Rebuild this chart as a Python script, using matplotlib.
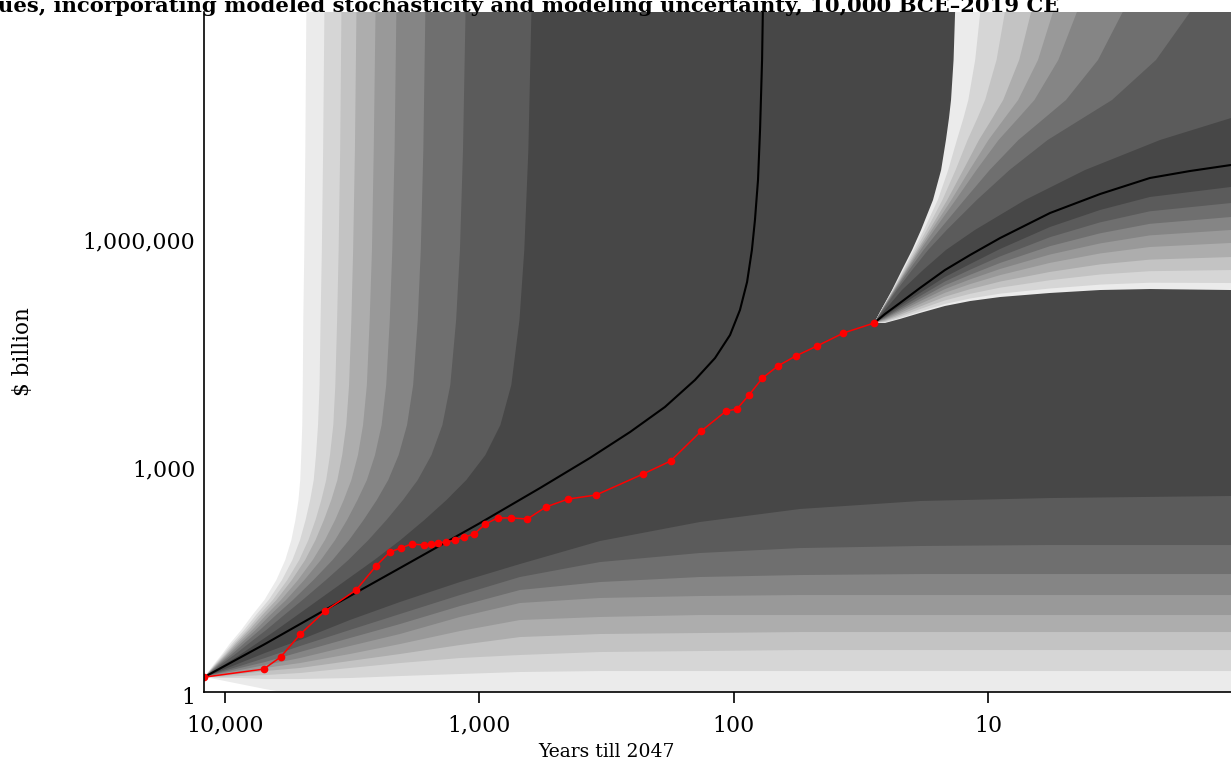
import numpy as np
import matplotlib.pyplot as plt
from matplotlib.ticker import NullLocator, FixedLocator, FixedFormatter
from matplotlib.transforms import ScaledTranslation

plt.rcParams['font.family'] = ['DejaVu Serif']

# historical gross world product: calendar year, $ billion
years = [-10000, -5000, -4000, -3000, -2000, -1000, -500, -200, 14, 200, 400, 500,
         600, 700, 800, 900, 1000, 1100, 1200, 1300, 1400, 1500, 1600, 1700,
         1820, 1870, 1913, 1940, 1950, 1960, 1970, 1980, 1990, 2000, 2010, 2019]
gwp = [1.57, 2.00, 2.88, 5.79, 11.6, 22.0, 45.5, 69.5, 78.5, 88.5, 85.9, 88.5,
       91.4, 94.2, 100, 109, 120, 162, 195, 195, 189, 272, 346, 391,
       738, 1094, 2716, 4977, 5290, 8090, 13500, 19450, 26350, 35650, 52850, 71600]

# fan from 10,000 BCE, in log10 years till 2047 and log10 $ billion, outer band first
left_up_logv = [0.197, 0.355, 0.486, 0.644, 0.815, 1.013, 1.210, 1.473, 1.736, 1.999,
                2.263, 2.526, 2.789, 3.118, 3.513, 4.039, 4.894, 5.815, 7.131, 8.947]
left_up_logt = [
    [4.081, 4.046, 4.014, 3.979, 3.936, 3.892, 3.845, 3.798, 3.763, 3.739, 3.723, 3.711, 3.704, 3.700, 3.696, 3.694, 3.692, 3.688, 3.684, 3.680],
    [4.081, 4.042, 4.009, 3.970, 3.925, 3.878, 3.828, 3.776, 3.735, 3.705, 3.683, 3.665, 3.651, 3.642, 3.634, 3.628, 3.624, 3.619, 3.614, 3.609],
    [4.081, 4.039, 4.003, 3.962, 3.914, 3.865, 3.812, 3.755, 3.708, 3.672, 3.644, 3.621, 3.602, 3.587, 3.574, 3.566, 3.559, 3.553, 3.547, 3.542],
    [4.081, 4.037, 3.998, 3.955, 3.905, 3.853, 3.798, 3.737, 3.685, 3.644, 3.611, 3.582, 3.558, 3.539, 3.523, 3.512, 3.503, 3.496, 3.489, 3.483],
    [4.081, 4.033, 3.993, 3.946, 3.893, 3.838, 3.780, 3.713, 3.655, 3.607, 3.567, 3.533, 3.503, 3.477, 3.457, 3.442, 3.431, 3.422, 3.415, 3.408],
    [4.081, 4.030, 3.986, 3.936, 3.880, 3.822, 3.760, 3.688, 3.623, 3.567, 3.520, 3.479, 3.442, 3.410, 3.384, 3.366, 3.352, 3.342, 3.333, 3.326],
    [4.081, 4.025, 3.977, 3.923, 3.863, 3.799, 3.733, 3.652, 3.577, 3.512, 3.455, 3.403, 3.358, 3.317, 3.284, 3.260, 3.242, 3.230, 3.220, 3.212],
    [4.081, 4.018, 3.964, 3.904, 3.838, 3.767, 3.695, 3.603, 3.515, 3.436, 3.365, 3.300, 3.242, 3.188, 3.145, 3.114, 3.091, 3.076, 3.064, 3.054],
    [4.081, 4.006, 3.943, 3.873, 3.798, 3.715, 3.633, 3.523, 3.413, 3.310, 3.216, 3.129, 3.051, 2.976, 2.917, 2.874, 2.842, 2.823, 2.807, 2.795],
]
left_lo_logt = [4.081, 4.020, 3.941, 3.843, 3.705, 3.509, 3.312, 3.076, 2.840,
                2.525, 2.132, 1.739, 1.267, 0.756, 0.044]
left_lo_logv = [
    [0.197, 0.158, 0.105, 0.039, -0.040, -0.119, -0.171, -0.211, -0.237, -0.250, -0.263, -0.263, -0.263, -0.263, -0.263],
    [0.197, 0.184, 0.184, 0.171, 0.171, 0.184, 0.210, 0.237, 0.263, 0.276, 0.276, 0.276, 0.276, 0.276, 0.276],
    [0.197, 0.197, 0.210, 0.223, 0.250, 0.316, 0.381, 0.447, 0.487, 0.526, 0.539, 0.552, 0.552, 0.552, 0.552],
    [0.197, 0.210, 0.237, 0.276, 0.316, 0.408, 0.500, 0.618, 0.723, 0.763, 0.776, 0.789, 0.789, 0.789, 0.789],
    [0.197, 0.223, 0.263, 0.316, 0.381, 0.500, 0.631, 0.802, 0.947, 0.987, 1.013, 1.013, 1.013, 1.013, 1.013],
    [0.197, 0.237, 0.289, 0.355, 0.447, 0.605, 0.763, 0.987, 1.171, 1.237, 1.263, 1.276, 1.276, 1.276, 1.276],
    [0.197, 0.250, 0.316, 0.394, 0.526, 0.710, 0.894, 1.131, 1.342, 1.447, 1.513, 1.539, 1.552, 1.552, 1.552],
    [0.197, 0.263, 0.342, 0.447, 0.605, 0.816, 1.026, 1.276, 1.513, 1.710, 1.829, 1.894, 1.921, 1.934, 1.934],
    [0.197, 0.276, 0.381, 0.513, 0.684, 0.947, 1.184, 1.447, 1.684, 1.987, 2.237, 2.408, 2.513, 2.552, 2.579],
]
left_med_logt = [4.081, 3.843, 3.607, 3.312, 2.997, 2.761, 2.565, 2.407, 2.270, 2.152,
                 2.073, 2.014, 1.975, 1.947, 1.928, 1.916, 1.904, 1.896, 1.888, 1.885]
left_med_logv = [0.197, 0.631, 1.079, 1.631, 2.223, 2.684, 3.079, 3.421, 3.750, 4.105,
                 4.394, 4.697, 5.026, 5.394, 5.816, 6.210, 6.737, 7.394, 8.316, 8.947]

# fan from 2019
right_up_logv = [4.855, 5.026, 5.289, 5.552, 5.816, 6.079, 6.473, 6.868, 7.263,
                 7.552, 7.789, 8.316, 8.947]
right_up_logt = [
    [1.447, 1.420, 1.377, 1.338, 1.298, 1.263, 1.216, 1.184, 1.165, 1.153, 1.145, 1.135, 1.129],
    [1.447, 1.420, 1.375, 1.333, 1.292, 1.252, 1.197, 1.156, 1.122, 1.096, 1.077, 1.050, 1.030],
    [1.447, 1.419, 1.373, 1.330, 1.285, 1.241, 1.179, 1.127, 1.080, 1.041, 1.011, 0.966, 0.933],
    [1.447, 1.418, 1.371, 1.325, 1.278, 1.230, 1.160, 1.097, 1.035, 0.982, 0.940, 0.877, 0.830],
    [1.447, 1.417, 1.369, 1.321, 1.272, 1.221, 1.144, 1.072, 0.998, 0.934, 0.881, 0.803, 0.744],
    [1.447, 1.416, 1.367, 1.317, 1.265, 1.211, 1.127, 1.045, 0.958, 0.880, 0.817, 0.723, 0.650],
    [1.447, 1.415, 1.364, 1.310, 1.253, 1.191, 1.093, 0.993, 0.880, 0.777, 0.693, 0.567, 0.470],
    [1.447, 1.413, 1.358, 1.298, 1.235, 1.162, 1.044, 0.915, 0.765, 0.626, 0.512, 0.339, 0.205],
    [1.447, 1.405, 1.338, 1.255, 1.165, 1.051, 0.854, 0.618, 0.323, 0.044, -0.188, -0.542, -0.817],
]
right_lo_logt = [1.447, 1.405, 1.346, 1.267, 1.169, 1.070, 0.952, 0.756, 0.559, 0.363, 0.044]
right_lo_logv = [
    [4.855, 4.855, 4.908, 4.987, 5.079, 5.144, 5.197, 5.250, 5.289, 5.302, 5.289],
    [4.855, 4.862, 4.920, 5.005, 5.105, 5.177, 5.241, 5.309, 5.360, 5.385, 5.381],
    [4.855, 4.873, 4.941, 5.038, 5.152, 5.239, 5.320, 5.418, 5.493, 5.537, 5.552],
    [4.855, 4.884, 4.963, 5.071, 5.201, 5.300, 5.400, 5.527, 5.626, 5.689, 5.723],
    [4.855, 4.897, 4.985, 5.106, 5.252, 5.367, 5.485, 5.646, 5.770, 5.855, 5.908],
    [4.855, 4.909, 5.008, 5.141, 5.301, 5.429, 5.566, 5.756, 5.902, 6.008, 6.079],
    [4.855, 4.921, 5.029, 5.173, 5.350, 5.489, 5.645, 5.866, 6.035, 6.160, 6.250],
    [4.855, 4.933, 5.052, 5.209, 5.401, 5.556, 5.731, 5.984, 6.179, 6.325, 6.434],
    [4.855, 4.947, 5.079, 5.250, 5.460, 5.631, 5.829, 6.118, 6.342, 6.513, 6.645],
]
right_med_logt = [1.447, 1.405, 1.346, 1.267, 1.169, 1.070, 0.952, 0.756, 0.559, 0.363, 0.205, 0.044]
right_med_logv = [4.855, 4.973, 5.118, 5.316, 5.552, 5.750, 5.973, 6.302, 6.552, 6.763, 6.855, 6.934]

band_colors = ['#ebebeb', '#d6d6d6', '#c3c3c3', '#adadad', '#999999',
               '#858585', '#6f6f6f', '#5b5b5b', '#474747']

xticks = [10000, 1000, 100, 10]
xticklabels = ['10,000', '1,000', '100', '10']
yticks = [1, 1000, 1e6]
yticklabels = ['1', '1,000', '1,000,000']


def band(lo_t, lo_v, up_t, up_v):
    # lower edge out past the right side, up over the top, back down the upper edge
    xs = list(lo_t) + [-1, -1, up_t[-1]] + list(up_t[::-1])
    ys = list(lo_v) + [lo_v[-1], 12, 12] + list(up_v[::-1])
    return 10 ** np.array(xs), 10 ** np.array(ys)


fig = plt.figure(figsize=(12.31, 7.68), dpi=100)
ax = fig.add_axes([204.4 / 1231, 76 / 768, 1 - 204.4 / 1231, 680 / 768])
ax.set_xscale('log')
ax.set_yscale('log')

for k, c in enumerate(band_colors):
    bx, by = band(left_lo_logt, left_lo_logv[k], left_up_logt[k], left_up_logv)
    ax.fill(bx, by, color=c, lw=0, zorder=1)
ax.plot(10 ** np.array(left_med_logt), 10 ** np.array(left_med_logv),
        color='black', lw=1.5, zorder=3)

for k, c in enumerate(band_colors):
    bx, by = band(right_lo_logt, right_lo_logv[k], right_up_logt[k], right_up_logv)
    ax.fill(bx, by, color=c, lw=0, zorder=4)
ax.plot(10 ** np.array(right_med_logt), 10 ** np.array(right_med_logv),
        color='black', lw=1.5, zorder=5)

t_left = [2047 - y for y in years]
ax.plot(t_left, gwp, color='#ff0000', lw=1.1, marker='o', ms=4.5, zorder=6)

ax.set_xlim(12047, 10 ** 0.0441)
ax.set_ylim(1, 10 ** 8.947)

ax.xaxis.set_major_locator(FixedLocator(xticks))
ax.xaxis.set_major_formatter(FixedFormatter(xticklabels))
ax.yaxis.set_major_locator(FixedLocator(yticks))
ax.yaxis.set_major_formatter(FixedFormatter(yticklabels))
ax.xaxis.set_minor_locator(NullLocator())
ax.yaxis.set_minor_locator(NullLocator())
ax.tick_params(axis='x', length=8, width=1.2, pad=8.5, labelsize=15.8)
ax.tick_params(axis='y', length=0, pad=6.5, labelsize=15.8)
for lab in ax.get_yticklabels():
    lab.set_transform(lab.get_transform() + ScaledTranslation(0, -0.04, fig.dpi_scale_trans))

for s in ['top', 'right']:
    ax.spines[s].set_visible(False)
for s in ['left', 'bottom']:
    ax.spines[s].set_linewidth(1.2)
    ax.spines[s].set_zorder(10)

fig.text(23 / 1231, 1 - 352 / 768, r'\$ billion', rotation=90,
         ha='center', va='center', fontsize=15.5)
fig.text(607 / 1231, 1 - 752 / 768, 'Years till 2047',
         ha='center', va='center', fontsize=13.5)
fig.text(-0.002, 1 - 12 / 768,
         'ues, incorporating modeled stochasticity and modeling uncertainty, 10,000 BCE\u20132019 CE',
         ha='left', va='baseline', fontsize=15.2, fontweight='bold')

fig.savefig('out.png', dpi=100)
